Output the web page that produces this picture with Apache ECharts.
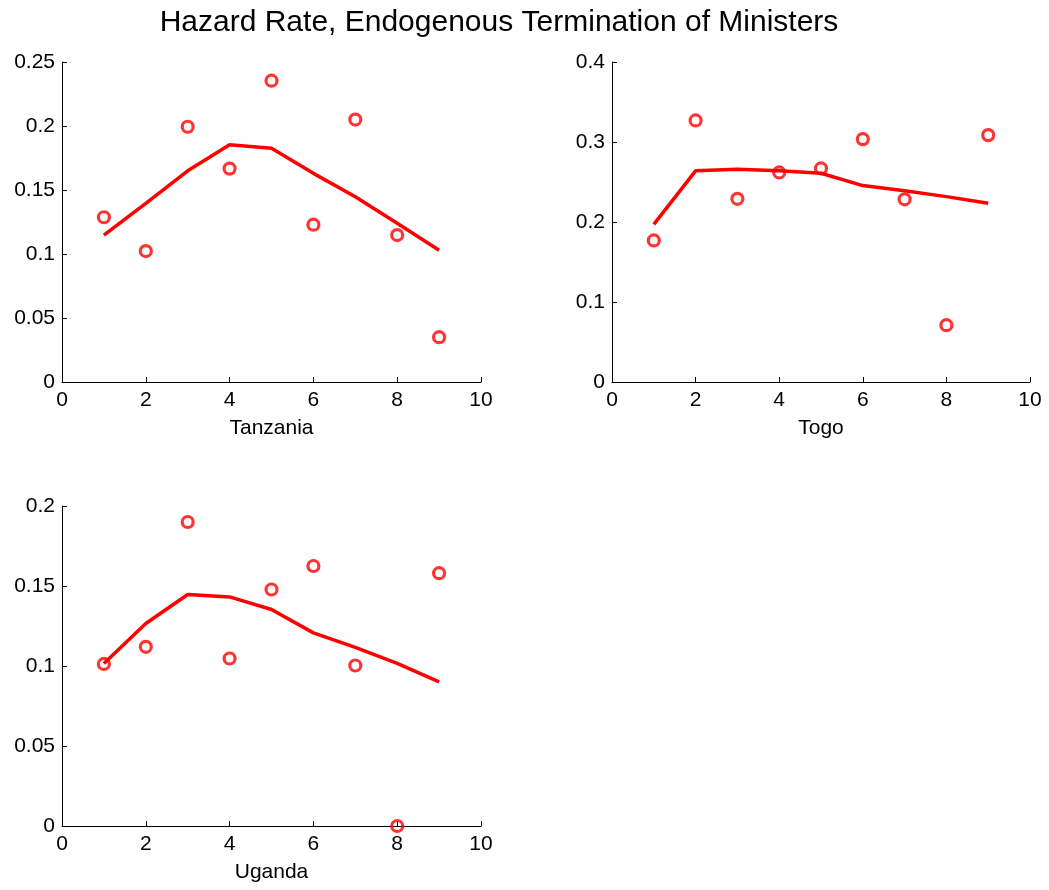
<!DOCTYPE html>
<html>
<head>
<meta charset="utf-8">
<script src="https://cdn.jsdelivr.net/npm/echarts@6/dist/echarts.min.js"></script>
<style>
html,body{margin:0;padding:0;background:#fff;}
#chart{width:1049px;height:890px;}
</style>
</head>
<body>
<div id="chart"></div>
<script>
// ---- data ----
var periods = [1, 2, 3, 4, 5, 6, 7, 8, 9];
var countries = ["Tanzania", "Togo", "Uganda"];
var tanzaniaObserved = [0.1287, 0.1023, 0.1994, 0.1667, 0.2354, 0.1229, 0.2050, 0.1148, 0.0350];
var tanzaniaFitted   = [0.1148, 0.1396, 0.1650, 0.1853, 0.1827, 0.1630, 0.1448, 0.1240, 0.1030];
var togoObserved     = [0.1770, 0.3270, 0.2290, 0.2620, 0.2670, 0.3036, 0.2284, 0.0710, 0.3086];
var togoFitted       = [0.1970, 0.2640, 0.2660, 0.2640, 0.2610, 0.2455, 0.2390, 0.2317, 0.2234];
var ugandaObserved   = [0.1013, 0.1120, 0.1900, 0.1047, 0.1478, 0.1625, 0.1003, 0.0000, 0.1580];
var ugandaFitted     = [0.1015, 0.1266, 0.1447, 0.1432, 0.1353, 0.1207, 0.1116, 0.1016, 0.0901];
var yMaxes = [0.25, 0.4, 0.2];
var yIntervals = [0.05, 0.1, 0.05];
var titleText = "Hazard Rate, Endogenous Termination of Ministers";

function pairs(xs, ys) { return xs.map(function (x, i) { return [x, ys[i]]; }); }

var observed = [tanzaniaObserved, togoObserved, ugandaObserved];
var fitted = [tanzaniaFitted, togoFitted, ugandaFitted];

var FONT = "Liberation Sans, Arial, sans-serif";
var grids = [
  {left: 62, top: 62, width: 419, height: 320},
  {left: 612, top: 62, width: 418, height: 320},
  {left: 62, top: 506, width: 419, height: 320}
];

var xAxes = [], yAxes = [], series = [];
for (var i = 0; i < 3; i++) {
  xAxes.push({
    type: 'value', gridIndex: i, min: 0, max: 10, interval: 2,
    name: countries[i], nameLocation: 'middle', nameGap: 36,
    nameTextStyle: {color: '#000', fontSize: 21, fontFamily: FONT},
    axisLine: {show: true, onZero: false, lineStyle: {color: '#000', width: 1}},
    axisTick: {show: true, inside: true, length: 5, lineStyle: {color: '#000'}},
    axisLabel: {color: '#000', fontSize: 21, fontFamily: FONT, margin: 8, showMinLabel: true, showMaxLabel: true},
    splitLine: {show: false}
  });
  yAxes.push({
    type: 'value', gridIndex: i, min: 0, max: yMaxes[i], interval: yIntervals[i],
    axisLine: {show: true, onZero: false, lineStyle: {color: '#000', width: 1}},
    axisTick: {show: true, inside: true, length: 5, lineStyle: {color: '#000'}},
    axisLabel: {color: '#000', fontSize: 21, fontFamily: FONT, margin: 7,
      formatter: function (v) { return String(parseFloat(v.toFixed(4))); }},
    splitLine: {show: false}
  });
  series.push({
    type: 'line', xAxisIndex: i, yAxisIndex: i,
    data: pairs(periods, fitted[i]),
    symbol: 'none', silent: true,
    lineStyle: {color: '#f00', width: 3.5}, z: 2
  });
  series.push({
    type: 'scatter', xAxisIndex: i, yAxisIndex: i,
    data: pairs(periods, observed[i]),
    symbol: 'circle', symbolSize: 11, silent: true,
    itemStyle: {color: 'rgba(0,0,0,0)', borderColor: '#f00', borderWidth: 3.2}, z: 3
  });
}

var chart = echarts.init(document.getElementById('chart'), null, {renderer: 'canvas'});
chart.setOption({
  backgroundColor: '#fff',
  animation: false,
  title: {
    text: titleText, left: 494, top: 3, textAlign: 'center',
    textStyle: {color: '#000', fontSize: 30, fontWeight: 'normal', fontFamily: FONT}
  },
  grid: grids,
  xAxis: xAxes,
  yAxis: yAxes,
  series: series
});
</script>
</body>
</html>
